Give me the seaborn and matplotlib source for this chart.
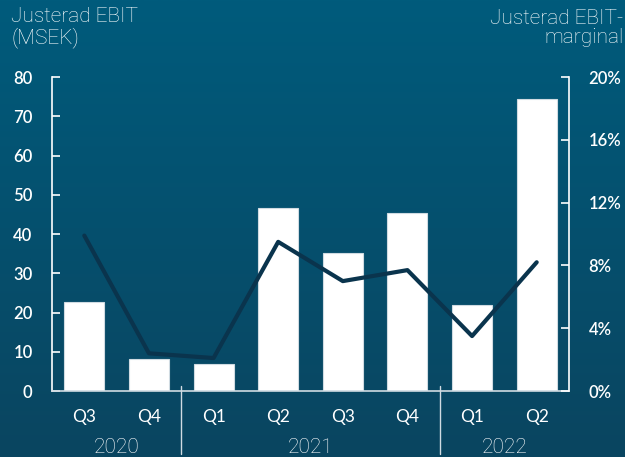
import numpy as np
import pandas as pd
import matplotlib.pyplot as plt
import seaborn as sns
from matplotlib.colors import LinearSegmentedColormap

kvartal = ['Q3', 'Q4', 'Q1', 'Q2', 'Q3', 'Q4', 'Q1', 'Q2']
ar = ['2020', '2020', '2021', '2021', '2021', '2021', '2022', '2022']
ebit = [22.7, 8.2, 7.0, 46.6, 35.2, 45.3, 21.9, 74.4]
marginal = [9.9, 2.4, 2.1, 9.5, 7.0, 7.7, 3.5, 8.2]

df = pd.DataFrame({'kvartal': kvartal, 'ar': ar, 'ebit': ebit, 'marginal': marginal})
df['pos'] = range(len(df))

sns.set_theme(style='white')
plt.rcParams['font.family'] = ['Lato', 'DejaVu Sans']

vit = '#ffffff'
ljus = '#d0dbe2'
linjefarg = '#0a344d'
tunn = ['Roboto', 'Lato', 'DejaVu Sans']

fig = plt.figure(figsize=(6.25, 4.57), dpi=100)

# bakgrund med gradient
bg = fig.add_axes([0, 0, 1, 1], zorder=0)
grad = np.linspace(0, 1, 256).reshape(-1, 1)
cmap = LinearSegmentedColormap.from_list('bg', ['#005b7c', '#0a4560'])
bg.imshow(grad, aspect='auto', cmap=cmap, extent=[0, 1, 0, 1], origin='upper')
bg.axis('off')

ax = fig.add_axes([0.0832, 0.1444, 0.8272, 0.6871], zorder=1)
ax.patch.set_alpha(0)

sns.barplot(data=df, x='pos', y='ebit', color=vit, width=0.62, ax=ax,
            edgecolor=ljus, linewidth=0.8, native_scale=True)
ax.set_xlim(-0.5, 7.5)
ax.set_ylim(0, 80)
ax.set_yticks(range(0, 81, 10))
ax.set_xticks(df['pos'])
ax.set_xticklabels(df['kvartal'])
ax.set_xlabel('')
ax.set_ylabel('')

ax2 = ax.twinx()
sns.lineplot(data=df, x='pos', y='marginal', color=linjefarg, linewidth=3, ax=ax2)
ax2.set_ylim(0, 20)
ax2.set_yticks(range(0, 21, 4))
ax2.set_yticklabels([f'{v}%' for v in range(0, 21, 4)])
ax2.set_ylabel('')
ax2.set_xlim(-0.5, 7.5)

for a in (ax, ax2):
    for s in a.spines.values():
        s.set_visible(False)
ax.spines['left'].set_visible(True)
ax.spines['left'].set_color(vit)
ax.spines['left'].set_linewidth(1.2)
ax.spines['bottom'].set_visible(True)
ax.spines['bottom'].set_color(ljus)
ax.spines['bottom'].set_linewidth(1.2)
ax2.spines['right'].set_visible(True)
ax2.spines['right'].set_color(vit)
ax2.spines['right'].set_linewidth(1.2)

ax.tick_params(axis='y', direction='in', length=6, width=1.2, color=vit,
               labelcolor=vit, labelsize=12, pad=14, left=True)
ax.tick_params(axis='x', length=0, labelcolor=vit, labelsize=12.5, pad=13)
ax2.tick_params(axis='y', direction='in', length=6, width=1.2, color=vit,
                labelcolor=vit, labelsize=12, pad=14, right=True)
for lbl in ax.get_yticklabels() + ax2.get_yticklabels():
    lbl.set_fontweight('semibold')

# avdelare mellan år
for x in (1.5, 5.5):
    ax.plot([x, x], [0.015, -0.2], transform=ax.get_xaxis_transform(),
            color=ljus, linewidth=1, clip_on=False)

for namn, mitt in [('2020', 0.5), ('2021', 3.5), ('2022', 6.5)]:
    ax.text(mitt, -0.18, namn, transform=ax.get_xaxis_transform(),
            ha='center', va='center', color=vit, fontsize=15,
            family=tunn, fontweight='light')

fig.text(0.018, 0.985, 'Justerad EBIT\n(MSEK)', ha='left', va='top',
         color=vit, fontsize=15, family=tunn, fontweight='light', linespacing=1.1)
fig.text(0.997, 0.98, 'Justerad EBIT-\nmarginal', ha='right', va='top',
         color=vit, fontsize=15, family=tunn, fontweight='light',
         linespacing=1.0, multialignment='right')

fig.savefig('out.png', dpi=100)
